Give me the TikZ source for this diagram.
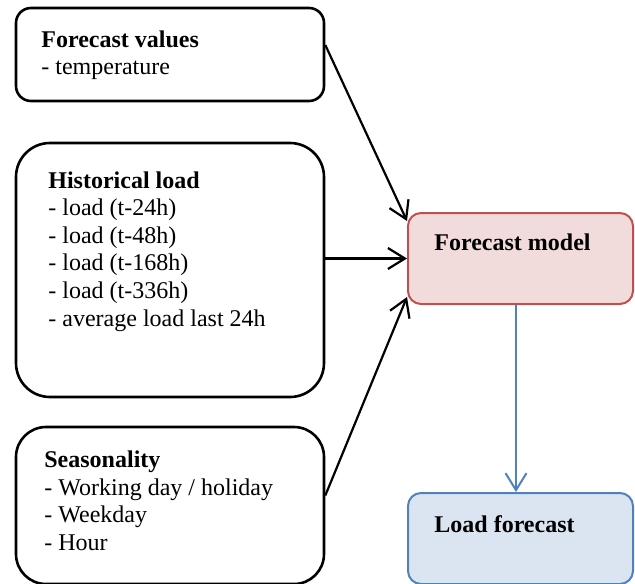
\documentclass[tikz,border=0pt]{standalone}
\usepackage{fontspec}
\setmainfont{Liberation Serif}
\usetikzlibrary{arrows.meta}
\definecolor{modelfill}{HTML}{F2DCDB}
\definecolor{modeledge}{HTML}{C0504D}
\definecolor{outfill}{HTML}{DBE5F1}
\definecolor{outedge}{HTML}{4F81BD}
\tikzset{
  inputbox/.style={draw=black, line width=1.3pt, minimum width=154pt, inner sep=0pt},
  modelbox/.style={draw=modeledge, fill=modelfill, line width=1pt, rounded corners=6.5pt,
    minimum width=112.5pt, minimum height=45.5pt, inner sep=0pt},
  outbox/.style={draw=outedge, fill=outfill, line width=1pt, rounded corners=6.5pt,
    minimum width=112.5pt, minimum height=45.5pt, inner sep=0pt},
  % multi-line nodes sit on the baseline of their last line
  boxtext/.style={anchor=base west, inner sep=0pt, align=left,
    font=\fontsize{12}{13.8}\selectfont},
  feed/.style={draw=black, line width=1.1pt, line join=round,
    -{Straight Barb[length=8.5pt,width=10.5pt,line width=1.1pt]}},
  result/.style={draw=outedge, line width=1pt, line join=round,
    -{Straight Barb[length=8.5pt,width=10.5pt,line width=1pt]}},
}
\begin{document}
\begin{tikzpicture}[x=0.5pt,y=-0.5pt]
\useasboundingbox (0,0) rectangle (635,583);

% input boxes
\node[inputbox, minimum height=46.5pt, rounded corners=7.5pt] (fv) at (170,54.5) {};
\node[inputbox, minimum height=127pt, rounded corners=17pt] (hl) at (170,270) {};
\node[inputbox, minimum height=78.5pt, rounded corners=15pt] (se) at (170,505.5) {};

% model and output boxes
\node[modelbox] (fm) at (520.5,258.5) {};
\node[outbox] (lf) at (520.5,538.5) {};

% box texts
\node[boxtext] (fvt) at (41,74.6) {\textbf{Forecast values}\\- temperature};
\node[boxtext] (hlt) at (48,326) {\textbf{Historical load}\\- load (t-24h)\\- load (t-48h)\\- load (t-168h)\\- load (t-336h)\\- average load last 24h};
\node[boxtext] (set) at (44,550.5) {\textbf{Seasonality}\\- Working day / holiday\\- Weekday\\- Hour};
\node[boxtext] (fmt) at (434,250) {\textbf{Forecast model}};
\node[boxtext] (lft) at (434,532) {\textbf{Load forecast}};

% connectors
\draw[feed] ([yshift=4.75pt]fv.east) -- ([yshift=-4.5pt]fm.north west);
\draw[feed] (hl.east |- fm.west) -- (fm.west);
\draw[feed] ([yshift=5pt]se.east) -- ([yshift=4pt]fm.south west);
\draw[result] ([xshift=-2.25pt]fm.south) -- ([xshift=-2.25pt]lf.north);
\end{tikzpicture}
\end{document}
